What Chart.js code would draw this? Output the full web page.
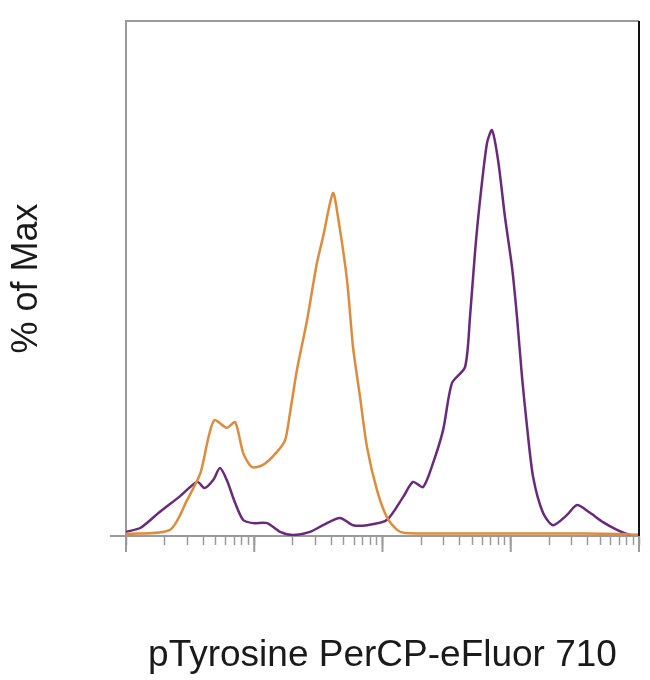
<!DOCTYPE html>
<html>
<head>
<meta charset="utf-8">
<script src="https://cdn.jsdelivr.net/npm/chart.js@4.4.1/dist/chart.umd.min.js"></script>
<style>
  html, body { margin: 0; padding: 0; background: #fff; }
  #wrap { width: 650px; height: 680px; }
</style>
</head>
<body>
<div id="wrap"><canvas id="histChart"></canvas></div>
<script>
// fluorescence intensity (log axis) and % of max
var orangeX = [1.0, 2.2, 3.0, 3.8, 4.4, 4.9, 6.1, 7.1, 8.2, 9.6, 11.7, 15, 17.4, 19, 21.5, 25.8, 30.8, 34.4, 41.1, 45, 52.9, 58.9, 66.8, 75.7, 90.6, 108, 130, 150, 336, 2020, 7110, 10000];
var orangeY = [0.4, 1.2, 7.0, 12.2, 19.2, 22.5, 21.0, 22.1, 16.1, 13.4, 13.8, 16.3, 18.6, 23.9, 32.2, 41.9, 53.0, 58.1, 66.6, 61.9, 49.7, 36.7, 27.0, 17.3, 8.9, 3.7, 1.2, 0.6, 0.5, 0.5, 0.4, 0.2];

var purpleX = [1.0, 1.3, 1.8, 2.6, 3.6, 4.1, 4.8, 5.4, 6.1, 7.1, 8.2, 9.8, 12.6, 15.9, 20, 27.2, 34.4, 46.6, 58.9, 75.7, 108, 145, 173, 207, 248, 297, 348, 440, 481, 526, 576, 653, 714, 796, 902, 1023, 1119, 1224, 1340, 1493, 1784, 2135, 2747, 3286, 4151, 5238, 6735, 8511, 10000];
var purpleY = [0.8, 1.6, 4.5, 7.6, 10.5, 9.3, 10.9, 13.2, 10.9, 6.4, 3.1, 2.5, 2.5, 0.8, 0.2, 0.8, 2.1, 3.5, 2.1, 2.1, 3.1, 7.6, 10.5, 9.5, 14.2, 20.6, 29.7, 32.8, 42.5, 55.0, 65.2, 76.3, 78.8, 73.0, 61.9, 52.2, 42.5, 30.9, 21.2, 11.5, 4.5, 2.1, 4.1, 6.0, 4.5, 2.7, 1.2, 0.2, 0.2];

// tick positions: decades plus the minor steps in between
var decadeTicks = [1, 10, 100, 1000, 10000];
var minorSteps = [2, 3, 4, 5, 6, 7, 8, 9];

function toPoints(xs, ys) {
    return xs.map(function (x, i) { return { x: x, y: ys[i] }; });
}

var axisGray = '#9a9a9a';

// longer marks for the decades, plus the top and right edges of the box
var framePlugin = {
    id: 'frame',
    afterDraw: function (chart) {
        var ctx = chart.ctx;
        var area = chart.chartArea;
        var xs = chart.scales.x;
        ctx.save();
        ctx.strokeStyle = axisGray;
        ctx.lineWidth = 2;
        decadeTicks.forEach(function (v) {
            var px = xs.getPixelForValue(v);
            ctx.beginPath();
            ctx.moveTo(px, area.bottom);
            ctx.lineTo(px, area.bottom + 16);
            ctx.stroke();
        });
        ctx.beginPath();
        ctx.moveTo(area.left - 16, area.bottom);
        ctx.lineTo(area.left, area.bottom);
        ctx.stroke();
        ctx.beginPath();
        ctx.moveTo(area.left, area.top);
        ctx.lineTo(area.right, area.top);
        ctx.stroke();
        ctx.strokeStyle = '#111';
        ctx.beginPath();
        ctx.moveTo(area.right, area.top);
        ctx.lineTo(area.right, area.bottom);
        ctx.stroke();
        ctx.restore();
    }
};

var ctx = document.getElementById('histChart').getContext('2d');
var histChart = new Chart(ctx, {
    type: 'line',
    data: {
        datasets: [{
            label: 'Isotype',
            data: toPoints(orangeX, orangeY),
            borderColor: '#dc8c3e',
            borderWidth: 2.5,
            pointRadius: 0,
            tension: 0.25,
            fill: false
        }, {
            label: 'pTyrosine',
            data: toPoints(purpleX, purpleY),
            borderColor: '#682a7a',
            borderWidth: 2.5,
            pointRadius: 0,
            tension: 0.25,
            fill: false
        }]
    },
    options: {
        responsive: true,
        maintainAspectRatio: false,
        animation: false,
        layout: { padding: { top: 21, right: 11, left: 0, bottom: 0 } },
        plugins: {
            legend: { display: false },
            tooltip: { enabled: false }
        },
        scales: {
            x: {
                type: 'logarithmic',
                min: 1,
                max: 10000,
                afterBuildTicks: function (scale) {
                    var ticks = [];
                    decadeTicks.forEach(function (d, i) {
                        ticks.push({ value: d, major: true });
                        if (i < decadeTicks.length - 1) {
                            minorSteps.forEach(function (m) { ticks.push({ value: m * d }); });
                        }
                    });
                    scale.ticks = ticks;
                },
                afterFit: function (scale) { scale.height = 144; },
                ticks: { display: false },
                grid: {
                    drawOnChartArea: false,
                    drawTicks: true,
                    tickLength: 9,
                    tickColor: axisGray,
                    tickWidth: 1.5
                },
                border: { display: true, color: axisGray, width: 2 },
                title: {
                    display: true,
                    text: 'pTyrosine PerCP-eFluor 710',
                    color: '#1a1a1a',
                    font: { family: 'Liberation Sans, Arial, sans-serif', size: 37 },
                    padding: { top: 0, bottom: 2 }
                }
            },
            y: {
                min: 0,
                max: 100,
                afterFit: function (scale) { scale.width = 126; },
                ticks: { display: false },
                grid: { display: false },
                border: { display: true, color: axisGray, width: 2 },
                title: {
                    display: true,
                    text: '% of Max',
                    color: '#1a1a1a',
                    font: { family: 'Liberation Sans, Arial, sans-serif', size: 36 },
                    padding: { top: 5, bottom: 0 }
                }
            }
        }
    },
    plugins: [framePlugin]
});
</script>
</body>
</html>
